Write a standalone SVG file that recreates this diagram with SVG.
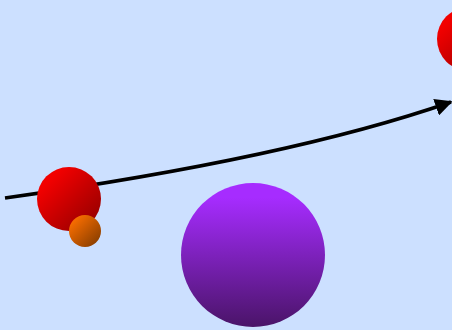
<svg xmlns="http://www.w3.org/2000/svg" width="452" height="330" viewBox="0 0 452 330">
<defs>
<linearGradient id="gRed" x1="0" y1="0" x2="1" y2="1"><stop offset="0.2" stop-color="#f20000"/><stop offset="1" stop-color="#8a0000"/></linearGradient>
<linearGradient id="gOr" x1="0" y1="0" x2="1" y2="1"><stop offset="0.1" stop-color="#ff7000"/><stop offset="1" stop-color="#7a3800"/></linearGradient>
<linearGradient id="gPu" x1="0" y1="0" x2="0" y2="1"><stop offset="0.1" stop-color="#a62cff"/><stop offset="1" stop-color="#4a1468"/></linearGradient>
<marker id="arr" viewBox="0 0 10 10" refX="9" refY="5" markerWidth="5" markerHeight="5" orient="auto" markerUnits="strokeWidth"><path d="M0,0 L10,5 L0,10 Z" fill="#000"/></marker>
<style>.edge{fill:none;stroke:#000;stroke-width:3.5}</style>
</defs>
<rect width="452" height="330" fill="#cce0ff"/>
<g id="connectors">
<path class="edge" d="M5,198 Q290,158 451,102" marker-end="url(#arr)"/>
</g>
<g id="node-red-top"><circle cx="469" cy="39" r="32" fill="url(#gRed)"/></g>
<g id="node-red"><circle cx="69" cy="199" r="32" fill="url(#gRed)"/></g>
<g id="node-orange"><circle cx="85" cy="231" r="16" fill="url(#gOr)"/></g>
<g id="node-purple"><circle cx="253" cy="255" r="72" fill="url(#gPu)"/></g>
</svg>
